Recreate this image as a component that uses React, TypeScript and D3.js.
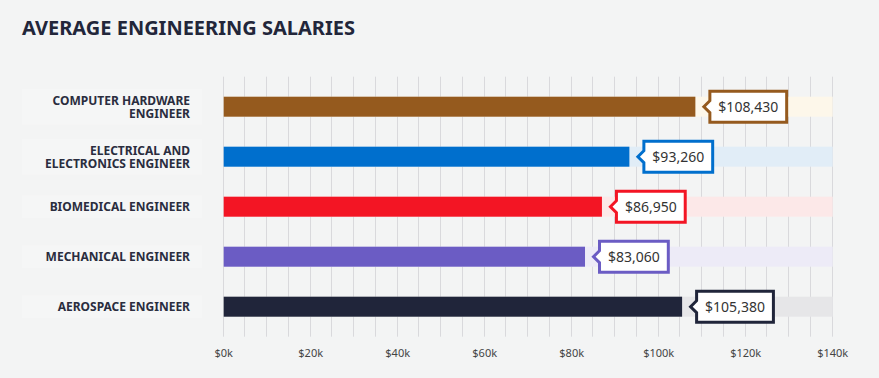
import React from "react";
import * as d3 from "d3";

const categories = [
  ["COMPUTER HARDWARE", "ENGINEER"],
  ["ELECTRICAL AND", "ELECTRONICS ENGINEER"],
  ["BIOMEDICAL ENGINEER"],
  ["MECHANICAL ENGINEER"],
  ["AEROSPACE ENGINEER"],
];
const salaries = [108430, 93260, 86950, 83060, 105380];
const barColors = ["#955a1e", "#006fcd", "#f31524", "#6b5cc4", "#20253a"];
const trackColors = ["#fdf7ea", "#e1edf7", "#fce8e8", "#edebf7", "#e6e6e8"];
const tickValues = [0, 20000, 40000, 60000, 80000, 100000, 120000, 140000];
const title = "AVERAGE ENGINEERING SALARIES";

const W = 879;
const H = 378;
const FONT = "'Noto Sans', sans-serif";

function measure(text: string, font: string): number {
  const c = document.createElement("canvas").getContext("2d");
  if (!c) return text.length * 7.5;
  c.font = font;
  return c.measureText(text).width;
}

export default function App() {
  const x = d3.scaleLinear().domain([0, 140000]).range([223.7, 832.7]);
  const y = d3
    .scaleBand<number>()
    .domain(d3.range(categories.length))
    .range([81.7, 331.7])
    .paddingInner(0.6)
    .paddingOuter(0.3);
  const bh = 20;
  const gridVals = d3.range(0, 140001, 5000);
  const fmt = d3.format("$,");

  return (
    <svg
      width={W}
      height={H}
      style={{ position: "absolute", left: 0, top: 0, display: "block", background: "#f3f4f4" }}
    >
      <rect x={0} y={0} width={W} height={H} fill="#f3f4f4" />
      <text x={22} y={35} fontFamily={FONT} fontWeight={700} fontSize={20} fill="#22263a">
        {title}
      </text>
      {gridVals.map((v) => (
        <line key={v} x1={Math.round(x(v)) - 0.5} x2={Math.round(x(v)) - 0.5} y1={76.7} y2={336.7} stroke="#d9d9dc" strokeWidth={1} />
      ))}
      {salaries.map((v, i) => {
        const cy = (y(i) as number) + y.bandwidth() / 2;
        const top = cy - bh / 2;
        const lines = categories[i];
        const lh = 13.6;
        const bgH = lines.length > 1 ? 36 : 23;
        const label = fmt(v);
        const tw = measure(label, `14px 'Noto Sans'`);
        const barEnd = x(v);
        const tip = barEnd + 8.5;
        const bl = tip + 6;
        const bw = tw + 17;
        const bt = cy - 15.5;
        const bb = cy + 15.5;
        const path = `M${bl},${bt} L${bl + bw},${bt} L${bl + bw},${bb} L${bl},${bb} L${bl},${cy + 6} L${tip},${cy} L${bl},${cy - 6} Z`;
        return (
          <g key={i}>
            <rect x={22} y={cy - bgH / 2} width={180} height={bgH} fill="#f5f6f6" />
            {lines.map((l, j) => (
              <text
                key={j}
                x={190}
                y={cy + 4.6 - ((lines.length - 1) * lh) / 2 + j * lh}
                textAnchor="end"
                fontFamily={FONT}
                fontWeight={700}
                fontSize={12}
                fill="#2a2d3e"
              >
                {l}
              </text>
            ))}
            <rect x={x(0)} y={top} width={x(140000) - x(0)} height={bh} fill={trackColors[i]} />
            <rect x={x(0)} y={top} width={x(v) - x(0)} height={bh} fill={barColors[i]} />
            <path d={path} fill="#ffffff" stroke={barColors[i]} strokeWidth={3} strokeLinejoin="miter" />
            <text x={bl + bw / 2} y={cy + 5} textAnchor="middle" fontFamily={FONT} fontSize={14} fill="#333333">
              {label}
            </text>
          </g>
        );
      })}
      {tickValues.map((v) => (
        <text key={v} x={x(v)} y={357} textAnchor="middle" fontFamily={FONT} fontSize={11} fill="#444444">
          {`$${v / 1000}k`}
        </text>
      ))}
    </svg>
  );
}
